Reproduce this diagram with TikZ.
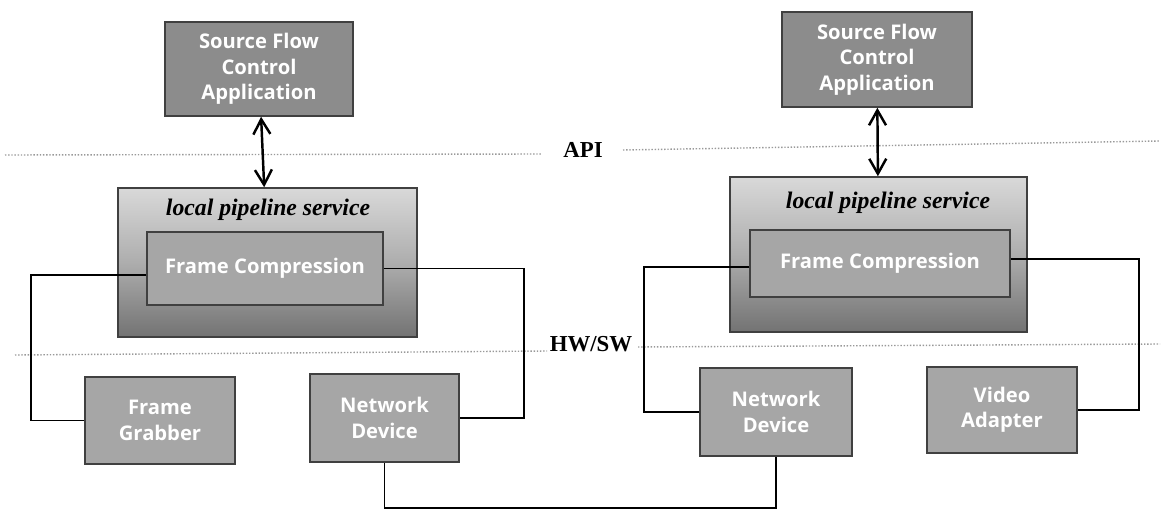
\documentclass[tikz,border=0pt]{standalone}
\usepackage{fontspec}
\setmainfont{Liberation Serif}
\newfontfamily\boxfont{Open Sans}
\usetikzlibrary{arrows.meta}
\begin{document}
\begin{tikzpicture}[x=0.02cm,y=-0.02cm]
\tikzstyle{b}=[draw=black!75,line width=0.9pt,fill=black!45,text=white,align=center,inner sep=0pt,font=\boxfont\bfseries\fontsize{11.5}{14.5}\selectfont]
\tikzstyle{p}=[draw=black!75,line width=0.9pt,inner sep=0pt,top color=black!15,bottom color=black!55,middle color=black!32]
\tikzstyle{c}=[fill=black!35]
\tikzstyle{sep}=[black!40,densely dotted,line width=0.8pt]
\tikzstyle{w}=[line width=1pt]
\tikzstyle{lab}=[font=\bfseries\fontsize{13}{15}\selectfont]
\tikzstyle{lps}=[font=\bfseries\itshape\fontsize{13.5}{15}\selectfont]
\useasboundingbox (0,0) rectangle (1163,510);
\draw[sep] (5,155) -- (542,154);
\draw[sep] (623,150) -- (1160,141);
\draw[sep] (15,355) -- (547,351);
\draw[sep] (638,347) -- (1160,344);
\node[lab] (api) at (583,150) {API};
\node[lab] (hwsw) at (591,344) {HW/SW};
\node[b,minimum width=3.76cm,minimum height=1.88cm] (sfcL) at (259,69) {Source Flow\\Control\\Application};
\node[p,minimum width=5.98cm,minimum height=2.98cm] (pipeL) at (267.5,262.5) {};
\node[lps] (lpsL) at (268,210) {local pipeline service};
\node[b,c,minimum width=4.72cm,minimum height=1.46cm] (fcL) at (265,268.5) {Frame Compression};
\node[b,c,minimum width=3.0cm,minimum height=1.74cm] (fg) at (160,420.5) {Frame\\Grabber};
\node[b,c,minimum width=2.98cm,minimum height=1.76cm] (ndL) at (384.5,418) {Network\\Device};
\node[b,minimum width=3.8cm,minimum height=1.9cm] (sfcR) at (877,59.5) {Source Flow\\Control\\Application};
\node[p,minimum width=5.94cm,minimum height=3.1cm] (pipeR) at (878.5,254.5) {};
\node[lps] (lpsR) at (888,203) {local pipeline service};
\node[b,c,minimum width=5.2cm,minimum height=1.34cm] (fcR) at (880,263.5) {Frame Compression};
\node[b,c,minimum width=3.04cm,minimum height=1.76cm] (ndR) at (776,412) {Network\\Device};
\node[b,c,minimum width=3.0cm,minimum height=1.72cm] (va) at (1002,410) {Video\\Adapter};
\draw[line width=1.4pt,{Straight Barb[length=3mm,width=3.4mm]}-{Straight Barb[length=3mm,width=3.4mm]}] (sfcL) -- (pipeL);
\draw[line width=1.4pt,{Straight Barb[length=3mm,width=3.4mm]}-{Straight Barb[length=3mm,width=3.4mm]}] (sfcR) -- (pipeR);
\draw[w] ([yshift=-0.13cm]fcL.west) -- ++(-115,0) |- (fg.west);
\draw[w] (fcL.east) -- ++(140,0) |- (ndL.east);
\draw[w] ([yshift=-0.07cm]fcR.west) -- ++(-105,0) |- (ndR.west);
\draw[w] ([yshift=0.09cm]fcR.east) -- ++(128,0) |- (va.east);
\draw[w] (ndL.south) -- ++(0,45) -| (ndR.south);
\end{tikzpicture}
\end{document}
